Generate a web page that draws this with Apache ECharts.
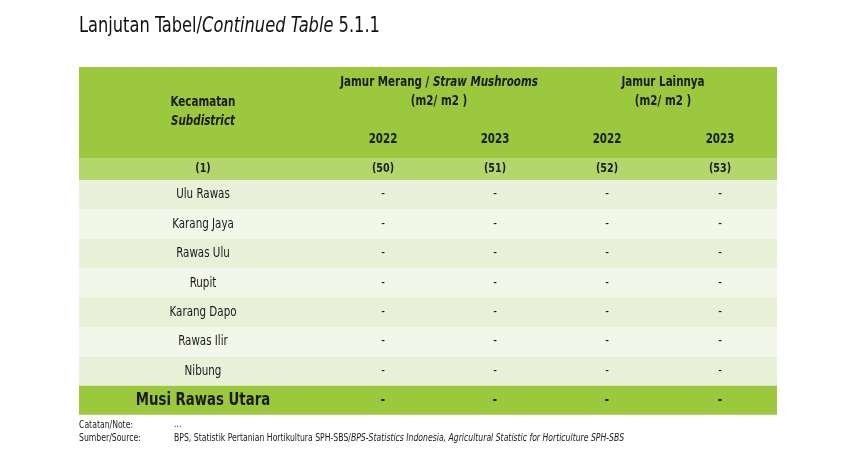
<!DOCTYPE html>
<html lang="en">
<head>
    <meta charset="UTF-8">
    <title>Tabel 5.1.1</title>
    <style>
        * { margin: 0; padding: 0; }
        html, body { height: 100%; background: #fff; }
        #chart { width: 854px; height: 458px; }
    </style>
    <script src="https://cdn.jsdelivr.net/npm/echarts@6/dist/echarts.min.js"></script>
</head>
<body>
<div id="chart"></div>
<script>
    // data
    const subdistricts = ['Ulu Rawas', 'Karang Jaya', 'Rawas Ulu', 'Rupit', 'Karang Dapo', 'Rawas Ilir', 'Nibung']
    const totalLabel = 'Musi Rawas Utara'
    const colNumbers = ['(1)', '(50)', '(51)', '(52)', '(53)']
    const years = ['2022', '2023', '2022', '2023']
    const values = [
        ['-', '-', '-', '-'],
        ['-', '-', '-', '-'],
        ['-', '-', '-', '-'],
        ['-', '-', '-', '-'],
        ['-', '-', '-', '-'],
        ['-', '-', '-', '-'],
        ['-', '-', '-', '-']
    ]
    const totalValues = ['-', '-', '-', '-']

    const FONT = '"DejaVu Sans Condensed", "Liberation Sans Narrow", sans-serif'
    const SX = 0.82
    const left = 79, right = 777
    const colX = [203, 383, 495, 607, 720]
    const rowTop = 180, rowH = 29.4

    let g = []
    function rect(y, h, fill) {
        g.push({type: 'rect', shape: {x: left, y: y, width: right - left, height: h}, style: {fill: fill}, silent: true})
    }
    function text(x, y, t, opt, sx) {
        g.push({type: 'text', x: x, y: y, scaleX: sx || SX, silent: true, style: Object.assign({
            text: t, fill: '#1a1a1a', font: '13px ' + FONT, align: 'center', verticalAlign: 'middle'
        }, opt || {})})
    }
    function rich(x, y, t, r, align, sx) {
        g.push({type: 'text', x: x, y: y, scaleX: sx || SX, silent: true, style: {
            text: t, align: align, verticalAlign: 'middle', rich: r
        }})
    }

    // header
    rect(67, 91, '#9bc83c')
    rect(158, 22, '#b5d66d')
    text(colX[0], 102, 'Kecamatan', {font: 'bold 14px ' + FONT})
    text(colX[0], 121, 'Subdistrict', {font: 'italic bold 14px ' + FONT})
    rich(439, 82, '{b|Jamur Merang / }{bi|Straw Mushrooms}',
        {b: {font: 'bold 14px ' + FONT, fill: '#1a1a1a'}, bi: {font: 'italic bold 14px ' + FONT, fill: '#1a1a1a'}}, 'center')
    text(439, 101, '(m2/ m2 )', {font: 'bold 14px ' + FONT})
    text(663, 82, 'Jamur Lainnya', {font: 'bold 14px ' + FONT})
    text(663, 101, '(m2/ m2 )', {font: 'bold 14px ' + FONT})
    years.forEach((y, i) => text(colX[i + 1], 139, y, {font: 'bold 14px ' + FONT}))
    colNumbers.forEach((n, i) => text(colX[i], 169, n, {font: 'bold 13px ' + FONT}))

    // body rows
    subdistricts.forEach((name, r) => {
        const y = rowTop + r * rowH
        rect(y, rowH, r % 2 === 0 ? '#e8f0d8' : '#f3f7ea')
        text(colX[0], y + rowH / 2, name, {font: '14px ' + FONT})
        values[r].forEach((v, c) => text(colX[c + 1], y + rowH / 2, v, {font: '14px ' + FONT}))
    })

    // total row
    const ty = rowTop + subdistricts.length * rowH
    rect(ty, 29, '#9bc83c')
    text(colX[0], ty + 14.5, totalLabel, {font: 'bold 18px ' + FONT})
    totalValues.forEach((v, c) => text(colX[c + 1], ty + 14.5, v, {font: 'bold 14px ' + FONT}))

    // title and notes
    rich(79, 27, '{n|Lanjutan Tabel/}{i|Continued Table}{n| 5.1.1}',
        {n: {font: '21px ' + FONT, fill: '#111'}, i: {font: 'italic 21px ' + FONT, fill: '#111'}}, 'left', 0.86)
    const noteFont = '11px ' + FONT
    text(79, 425, 'Catatan/Note:', {align: 'left', font: noteFont}, 0.78)
    text(174, 424, '...', {align: 'left', font: noteFont}, 0.78)
    text(79, 438, 'Sumber/Source:', {align: 'left', font: noteFont}, 0.78)
    rich(174, 438, '{n|BPS, Statistik Pertanian Hortikultura SPH-SBS/}{i|BPS-Statistics Indonesia, Agricultural Statistic for Horticulture SPH-SBS}',
        {n: {font: noteFont, fill: '#1a1a1a'}, i: {font: 'italic ' + noteFont, fill: '#1a1a1a'}}, 'left', 0.78)

    const chart = echarts.init(document.getElementById('chart'))
    chart.setOption({animation: false, graphic: {elements: g}})
</script>
</body>
</html>
